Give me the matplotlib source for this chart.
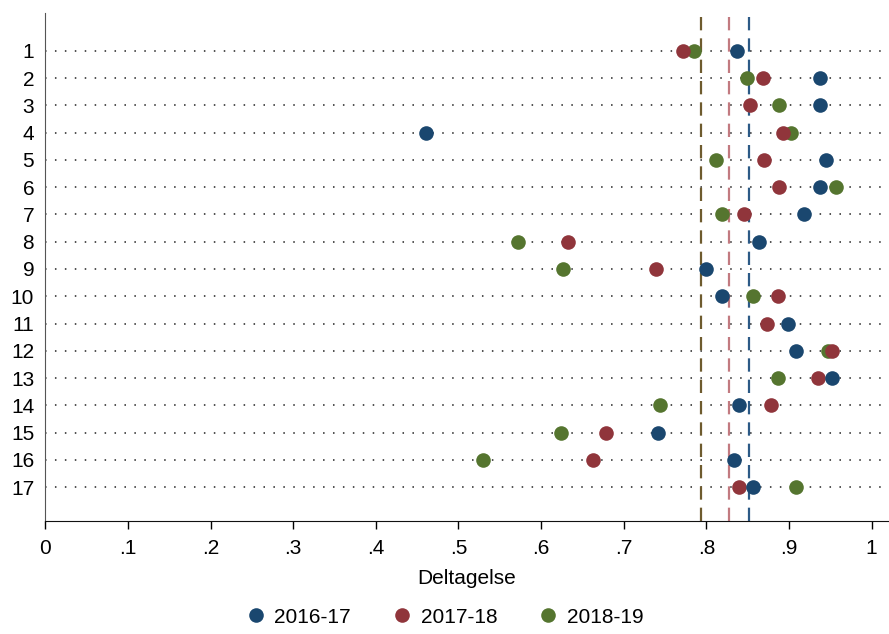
import numpy as np
import matplotlib
matplotlib.use("Agg")
from matplotlib import pyplot as plt
from matplotlib.lines import Line2D

plt.rcParams['font.family'] = ['Liberation Sans', 'DejaVu Sans']

# Rows 1..17, participation share per school year
rows = list(range(1, 18))
y1617 = [0.837, 0.937, 0.937, 0.461, 0.945, 0.937, 0.918, 0.864, 0.799,
         0.819, 0.899, 0.909, 0.952, 0.839, 0.741, 0.834, 0.856]
y1718 = [0.772, 0.868, 0.853, 0.893, 0.870, 0.888, 0.845, 0.632, 0.739,
         0.887, 0.873, 0.952, 0.935, 0.878, 0.679, 0.663, 0.839]
y1819 = [0.785, 0.849, 0.888, 0.902, 0.812, 0.957, 0.819, 0.572, 0.626,
         0.856, np.nan, 0.947, 0.887, 0.744, 0.624, 0.530, 0.908]

# averages (dashed lines)
means = {'2016-17': 0.852, '2017-18': 0.827, '2018-19': 0.794}

labels = ['2016-17', '2017-18', '2018-19']
series = [y1617, y1718, y1819]
colors = ['#1a476f', '#90353b', '#55752f']
line_colors = ['#2c5a86', '#c27a80', '#6e5b2e']
zorders = [5, 4, 3]

fig = plt.figure(figsize=(8.89, 6.34), dpi=100)
ax = fig.add_axes([0.051, 0.178, 0.948, 0.8015])

for r in rows:
    ax.plot([0, 1.02], [r, r], color='#222222', lw=1.1,
            linestyle=(0, (1, 5.5)), zorder=1)

for lab, c in zip(labels, line_colors):
    ax.axvline(means[lab], color=c, lw=1.6, linestyle=(0, (6.0, 3.6)), zorder=2)

for vals, c, z in zip(series, colors, zorders):
    ax.plot(vals, rows, 'o', color=c, markersize=10.5, markeredgewidth=0, zorder=z)

ax.set_xlim(0, 1.02)
ax.set_ylim(18.25, -0.39)
ax.set_xticks(np.arange(0, 1.01, 0.1))
ax.set_xticklabels(['0', '.1', '.2', '.3', '.4', '.5', '.6', '.7', '.8', '.9', '1'])
ax.set_yticks(rows)
ax.set_yticklabels([str(r) for r in rows])
ax.tick_params(axis='x', length=6, width=1, labelsize=15, pad=7)
ax.tick_params(axis='y', length=0, labelsize=15, pad=8)
ax.set_xlabel('Deltagelse', fontsize=15, labelpad=8)

for s in ['top', 'right']:
    ax.spines[s].set_visible(False)
ax.spines['left'].set_color('#555555')
ax.spines['bottom'].set_color('#111111')

handles = [Line2D([], [], marker='o', linestyle='', color=c, markersize=10.5,
                  markeredgewidth=0) for c in colors]
fig.legend(handles, labels, loc='lower center', bbox_to_anchor=(0.5, -0.018),
           ncol=3, frameon=False, fontsize=15, handlelength=1.0,
           handletextpad=0.4, columnspacing=1.95)

fig.savefig('out.png', dpi=100)
